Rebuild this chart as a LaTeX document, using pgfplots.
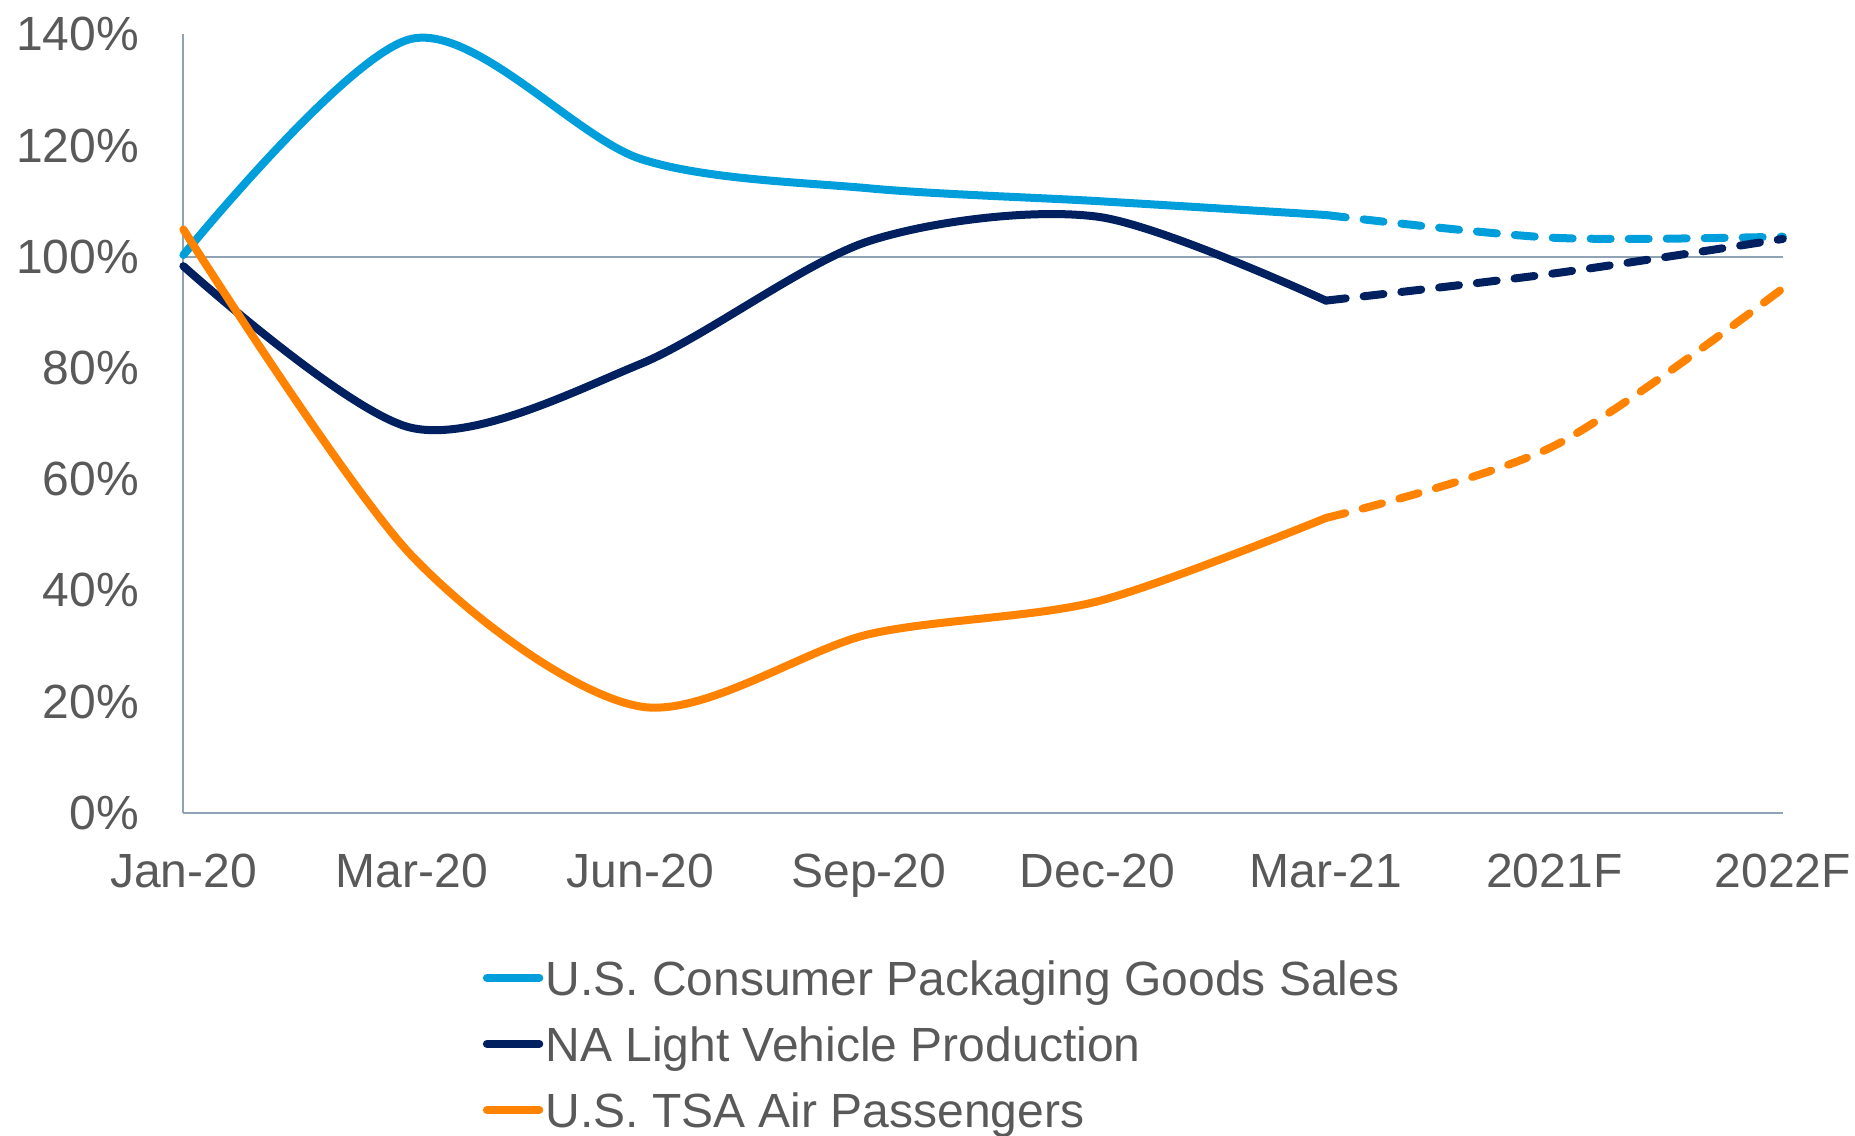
\documentclass[border=0pt]{standalone}
\usepackage{fontspec}
\setmainfont{Liberation Sans}
\usepackage{pgfplots}
\pgfplotsset{compat=1.18}
\definecolor{cblue}{RGB}{0,158,219}
\definecolor{cnavy}{RGB}{0,32,96}
\definecolor{corange}{RGB}{255,130,0}
\definecolor{axgray}{RGB}{143,163,181}
\definecolor{txtgray}{RGB}{89,89,89}
\begin{document}
\begin{tikzpicture}
\useasboundingbox (-91.7pt,-161.15pt) rectangle (835.8pt,406.35pt);
\begin{axis}[
  at={(0pt,0pt)}, anchor=south west,
  scale only axis, width=799.7pt, height=389.2pt,
  xmin=0, xmax=7, ymin=0, ymax=140,
  clip=false,
  axis x line*=bottom, axis y line*=left,
  axis line style={draw=axgray, line width=1pt, -},
  major tick length=0pt,
  xtick={0,1,2,3,4,5,6,7},
  xticklabels={Jan-20,Mar-20,Jun-20,Sep-20,Dec-20,Mar-21,2021F,2022F},
  ytick={0,20,40,60,80,100,120,140},
  yticklabel={\pgfmathparse{int(round(\tick))}\pgfmathresult\%},
  tick label style={font=\fontsize{24pt}{28pt}\selectfont, text=txtgray},
  xticklabel style={inner sep=0pt, anchor=north, yshift=-20.3pt},
  yticklabel style={inner sep=0pt, anchor=east, xshift=-22pt},
  legend style={at={(0.186,-0.1892)}, anchor=north west, draw=none, fill=none,
    inner sep=0pt, row sep=10.5pt, column sep=0pt,
    font=\fontsize{24pt}{28pt}\selectfont, text=txtgray,
    nodes={inner sep=0pt, text height=17.5pt, text depth=5pt}},
  legend cell align=left,
  legend image code/.code={\draw[#1, solid, line width=4pt, line cap=round] (0.8pt,2.5pt) -- (27pt,2.5pt); \path (0pt,0pt) (28.1pt,0pt);},
]
\addplot[axgray, line width=1pt, forget plot] coordinates {(0,100) (7,100)};
% solid actuals
\addplot[cblue, line width=4pt, smooth, line cap=round, line join=round] coordinates {
 (0,100.3) (1,139.2) (2,117.6) (3,112.3) (4,110.0) (5,107.5)};
\addlegendentry{U.S. Consumer Packaging Goods Sales}
\addplot[cnavy, line width=4pt, smooth, line cap=round, line join=round] coordinates {
 (0,98.3) (1,69.2) (2,80.7) (3,102.8) (4,107.2) (5,92.1)};
\addlegendentry{NA Light Vehicle Production}
\addplot[corange, line width=4pt, smooth, line cap=round, line join=round] coordinates {
 (0,104.9) (1,46.2) (2,19.1) (3,32.1) (4,38.0) (5,53.0)};
\addlegendentry{U.S. TSA Air Passengers}
% dashed forecasts
\addplot[cblue, line width=4pt, smooth, line cap=round, dash pattern=on 10pt off 9pt, forget plot] coordinates {
 (5,107.5) (6,103.4) (7,103.6)};
\addplot[cnavy, line width=4pt, smooth, line cap=round, dash pattern=on 10pt off 9pt, forget plot] coordinates {
 (5,92.1) (6,97.0) (7,103.2)};
\addplot[corange, line width=4pt, smooth, line cap=round, dash pattern=on 10pt off 9pt, forget plot] coordinates {
 (5,53.0) (6,66.0) (7,94.3)};
\end{axis}
\end{tikzpicture}
\end{document}
